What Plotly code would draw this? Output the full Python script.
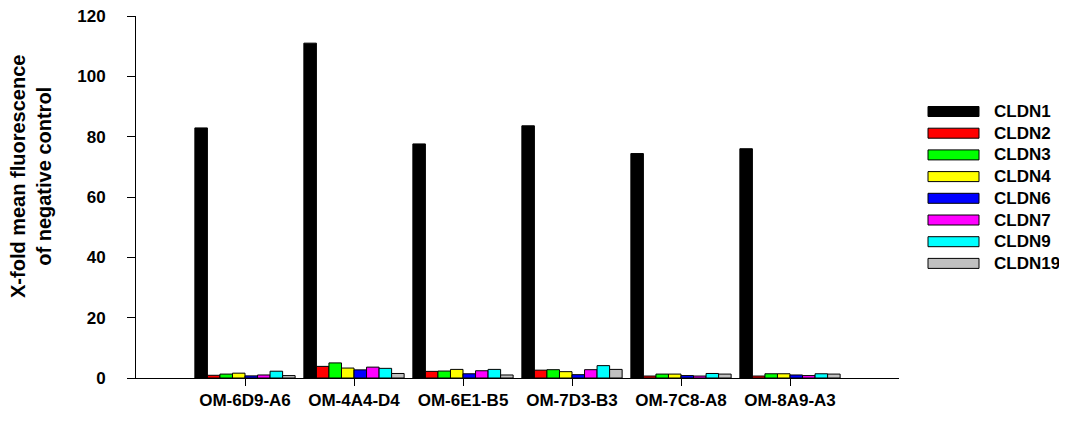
import plotly.graph_objects as go

categories = ["OM-6D9-A6", "OM-4A4-D4", "OM-6E1-B5", "OM-7D3-B3", "OM-7C8-A8", "OM-8A9-A3"]

cldn1 = [82.9, 111.0, 77.6, 83.6, 74.4, 76.0]
cldn2 = [0.9, 3.85, 2.2, 2.6, 0.65, 0.65]
cldn3 = [1.3, 5.0, 2.3, 2.75, 1.3, 1.4]
cldn4 = [1.6, 3.3, 2.85, 2.1, 1.3, 1.4]
cldn6 = [0.7, 2.7, 1.4, 1.1, 0.8, 1.0]
cldn7 = [1.0, 3.6, 2.4, 2.75, 0.65, 0.8]
cldn9 = [2.25, 3.2, 2.85, 4.1, 1.5, 1.4]
cldn19 = [0.8, 1.5, 1.0, 2.85, 1.3, 1.3]

series_names = ["CLDN1", "CLDN2", "CLDN3", "CLDN4", "CLDN6", "CLDN7", "CLDN9", "CLDN19"]
series_values = [cldn1, cldn2, cldn3, cldn4, cldn6, cldn7, cldn9, cldn19]
series_colors = ["#000000", "#ff0000", "#00ff00", "#ffff00", "#0000ff", "#ff00ff", "#00ffff", "#c0c0c0"]

FONT = "Liberation Sans, Arial, sans-serif"
BODY = 8  # default page margin of the html body

# plot-area geometry in page pixels
PL, PR, PT, PB = 136, 899, 16, 378
W, H = 1067 - BODY, 421 - BODY
PW, PH = PR - PL, PB - PT


def px_x(x):
    return (x - PL) / PW


def px_y(y):
    return (PB - y) / PH


fig = go.Figure()
for name, vals, col in zip(series_names, series_values, series_colors):
    fig.add_trace(go.Bar(
        x=categories, y=vals, name=name,
        marker=dict(color=col, line=dict(color="#000000", width=1)),
    ))

# custom legend with wide rectangles, as in the reference
shapes = []
annotations = []
for i, (name, col) in enumerate(zip(series_names, series_colors)):
    cy = 111.5 + i * 21.7
    shapes.append(dict(
        type="rect", xref="paper", yref="paper",
        x0=px_x(928), x1=px_x(979), y0=px_y(cy + 5), y1=px_y(cy - 5),
        fillcolor=col, line=dict(color="black", width=1),
    ))
    annotations.append(dict(
        text=name, xref="paper", yref="paper", x=px_x(992), y=px_y(cy),
        xanchor="left", yanchor="middle", showarrow=False,
        font=dict(family=FONT, size=17, color="black", weight="bold"),
    ))

annotations.append(dict(
    text="X-fold mean fluorescence<br>of negative control",
    xref="paper", yref="paper", x=px_x(31), y=px_y(177),
    xanchor="center", yanchor="middle", textangle=-90, showarrow=False,
    font=dict(family=FONT, size=20, color="black", weight="bold"),
))

fig.update_layout(
    width=W, height=H,
    margin=dict(l=PL - BODY, r=W - (PR - BODY), t=PT - BODY, b=H - (PB - BODY),
                autoexpand=False),
    plot_bgcolor="white", paper_bgcolor="white",
    barmode="group", bargap=0.08, bargroupgap=0,
    font=dict(family=FONT, size=17, color="black"),
    showlegend=False,
    xaxis=dict(
        type="category", range=[-1, 6], automargin=False,
        showline=True, linecolor="black", linewidth=1,
        ticks="outside", ticklen=7, tickcolor="black", tickwidth=1,
        tickfont=dict(family=FONT, size=17, color="black", weight="bold"),
        ticklabelstandoff=0,
        showgrid=False, zeroline=False,
    ),
    yaxis=dict(
        range=[0, 120], dtick=20, automargin=False,
        showline=True, linecolor="black", linewidth=1,
        ticks="outside", ticklen=8, tickcolor="black", tickwidth=1,
        tickfont=dict(family=FONT, size=17, color="black", weight="bold"),
        ticklabelstandoff=18, ticklabeloverflow="allow",
        showgrid=False, zeroline=False,
    ),
    shapes=shapes,
    annotations=annotations,
)

fig.write_html("out.html")
